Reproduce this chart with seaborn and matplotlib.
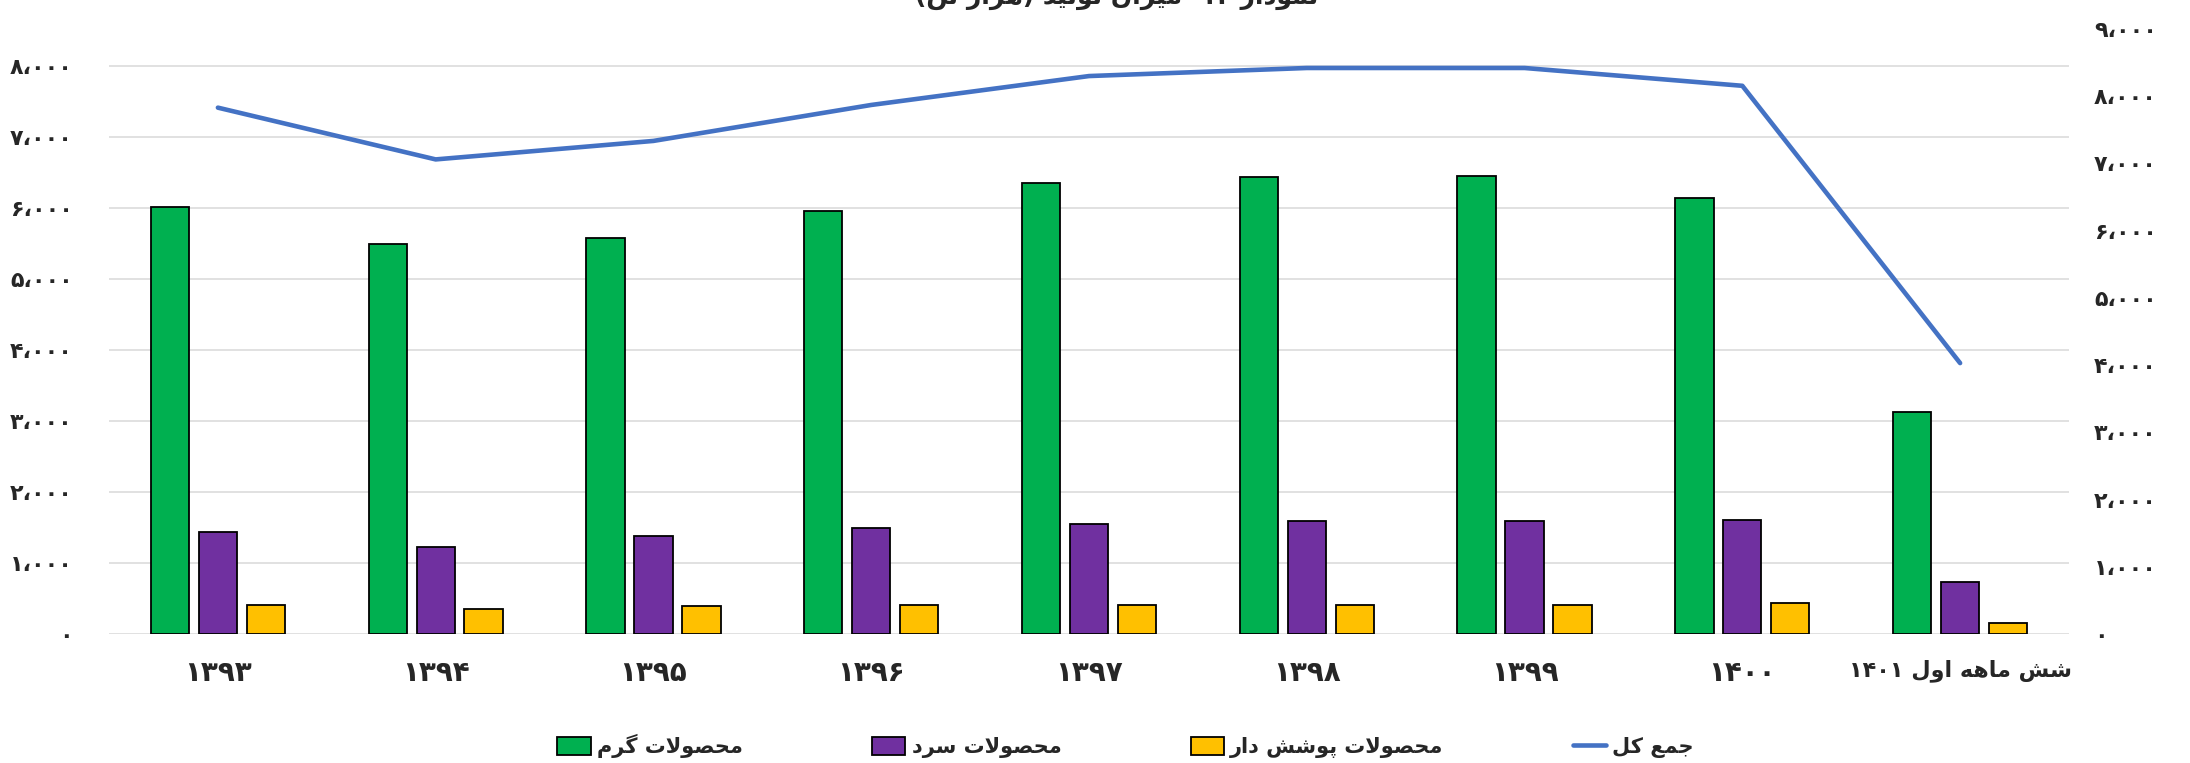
import re
import numpy as np
import pandas as pd
import matplotlib
matplotlib.use("Agg")
import matplotlib.pyplot as plt
from matplotlib.lines import Line2D
from matplotlib.ticker import FuncFormatter, MultipleLocator
import seaborn as sns

# --- data (thousand tonnes) ---
years = ['۱۳۹۳', '۱۳۹۴', '۱۳۹۵', '۱۳۹۶', '۱۳۹۷', '۱۳۹۸', '۱۳۹۹', '۱۴۰۰', 'شش ماهه اول ۱۴۰۱']
warm = [6010, 5490, 5570, 5960, 6350, 6430, 6450, 6135, 3130]
cold = [1430, 1220, 1375, 1495, 1550, 1590, 1590, 1610, 737]
covered = [410, 355, 395, 410, 410, 410, 410, 430, 160]
total = [7830, 7060, 7335, 7870, 8300, 8420, 8420, 8155, 4030]

series_names = ['محصولات گرم', 'محصولات سرد', 'محصولات پوشش دار']
total_name = 'جمع کل'
title = 'نمودار ۱۲- میزان تولید (هزار تن)'

colors = ['#00B050', '#7030A0', '#FFC000']
line_color = '#4472C4'

# --- minimal Persian shaping (matplotlib has no bidi / joining) ---
FORMS = {
    'ا': ('\uFE8D', '\uFE8E'), 'د': ('\uFEA9', '\uFEAA'), 'ر': ('\uFEAD', '\uFEAE'),
    'ز': ('\uFEAF', '\uFEB0'), 'و': ('\uFEED', '\uFEEE'),
    'ت': ('\uFE95', '\uFE96', '\uFE97', '\uFE98'), 'ج': ('\uFE9D', '\uFE9E', '\uFE9F', '\uFEA0'),
    'ح': ('\uFEA1', '\uFEA2', '\uFEA3', '\uFEA4'), 'س': ('\uFEB1', '\uFEB2', '\uFEB3', '\uFEB4'),
    'ش': ('\uFEB5', '\uFEB6', '\uFEB7', '\uFEB8'), 'ص': ('\uFEB9', '\uFEBA', '\uFEBB', '\uFEBC'),
    'ع': ('\uFEC9', '\uFECA', '\uFECB', '\uFECC'), 'ل': ('\uFEDD', '\uFEDE', '\uFEDF', '\uFEE0'),
    'م': ('\uFEE1', '\uFEE2', '\uFEE3', '\uFEE4'), 'ن': ('\uFEE5', '\uFEE6', '\uFEE7', '\uFEE8'),
    'ه': ('\uFEE9', '\uFEEA', '\uFEEB', '\uFEEC'), 'ی': ('\uFBFC', '\uFBFD', '\uFBFE', '\uFBFF'),
    'ک': ('\uFB8E', '\uFB8F', '\uFB90', '\uFB91'), 'گ': ('\uFB92', '\uFB93', '\uFB94', '\uFB95'),
    'پ': ('\uFB56', '\uFB57', '\uFB58', '\uFB59'),
}


def fa(text):
    out = []
    i = 0
    while i < len(text):
        c = text[i]
        if c not in FORMS:
            out.append(c)
            i += 1
            continue
        prev = text[i - 1] if i > 0 else ''
        nxt = text[i + 1] if i + 1 < len(text) else ''
        join_prev = prev in FORMS and len(FORMS[prev]) == 4
        if c == 'ل' and nxt == 'ا':
            out.append('\uFEFC' if join_prev else '\uFEFB')
            i += 2
            continue
        join_next = len(FORMS[c]) == 4 and nxt in FORMS
        f = FORMS[c]
        if join_prev and join_next:
            out.append(f[3])
        elif join_prev:
            out.append(f[1])
        elif join_next:
            out.append(f[2])
        else:
            out.append(f[0])
        i += 1
    s = ''.join(out)[::-1]
    s = re.sub(r'[۰-۹0-9]+', lambda m: m.group()[::-1], s)
    return s.translate(str.maketrans('()', ')('))


def fa_num(v, pos=None):
    s = f"{int(round(v)):,}".replace(',', '،')
    return s.translate(str.maketrans('0123456789', '۰۱۲۳۴۵۶۷۸۹'))


# --- long-form table for seaborn ---
df = pd.DataFrame({
    'year': years * 3,
    'series': [n for n in series_names for _ in years],
    'value': warm + cold + covered,
})

sns.set_theme(style="white")
plt.rcParams['font.family'] = ['DejaVu Sans']
plt.rcParams['font.weight'] = 'bold'

fig, ax = plt.subplots(figsize=(21.9, 7.63), dpi=100)
fig.subplots_adjust(left=109 / 2190, right=2069 / 2190, top=1 - 29 / 763, bottom=1 - 634 / 763)

sns.barplot(data=df, x='year', y='value', hue='series', hue_order=series_names,
            palette=colors, saturation=1, width=0.66, gap=0.2,
            edgecolor='black', linewidth=1.3, ax=ax)
bar_handles, _ = ax.get_legend_handles_labels()
ax.get_legend().remove()

ax2 = ax.twinx()
sns.lineplot(x=np.arange(len(years)), y=total, color=line_color, linewidth=3.3,
             solid_capstyle='round', ax=ax2)

ax.set_xlim(-0.5, len(years) - 0.5)
ax.set_ylim(0, 8520)
ax2.set_ylim(0, 9000)
ax.yaxis.set_major_locator(MultipleLocator(1000))
ax2.yaxis.set_major_locator(MultipleLocator(1000))
ax.yaxis.set_major_formatter(FuncFormatter(fa_num))
ax2.yaxis.set_major_formatter(FuncFormatter(fa_num))

ax.grid(axis='y', color='#D9D9D9', linewidth=1.1)
ax.set_axisbelow(True)
ax2.grid(False)
for a in (ax, ax2):
    for sp in a.spines.values():
        sp.set_visible(False)
    a.set_xlabel('')
    a.set_ylabel('')

ax.set_xticks(np.arange(len(years)))
ax.set_xticklabels([fa(y) for y in years])
ax.tick_params(axis='x', length=0, pad=18, labelsize=20)
ax.get_xticklabels()[-1].set_fontsize(16)
ax.tick_params(axis='y', length=0, pad=26, labelsize=16)
ax2.tick_params(axis='y', length=0, pad=18, labelsize=16)

fig.text(0.51, 1.004, fa(title), ha='center', va='center', fontsize=18, fontweight='bold')

line_handle = Line2D([], [], color=line_color, linewidth=3.3, solid_capstyle='round')
fig.legend(bar_handles + [line_handle], [fa(n) for n in series_names] + [fa(total_name)],
           loc='center', bbox_to_anchor=(0.514, 0.022), ncol=4, frameon=False,
           fontsize=15, handlelength=1.6, handleheight=1.0, handletextpad=0.3,
           columnspacing=6.2)

fig.savefig('out.png', dpi=100)
